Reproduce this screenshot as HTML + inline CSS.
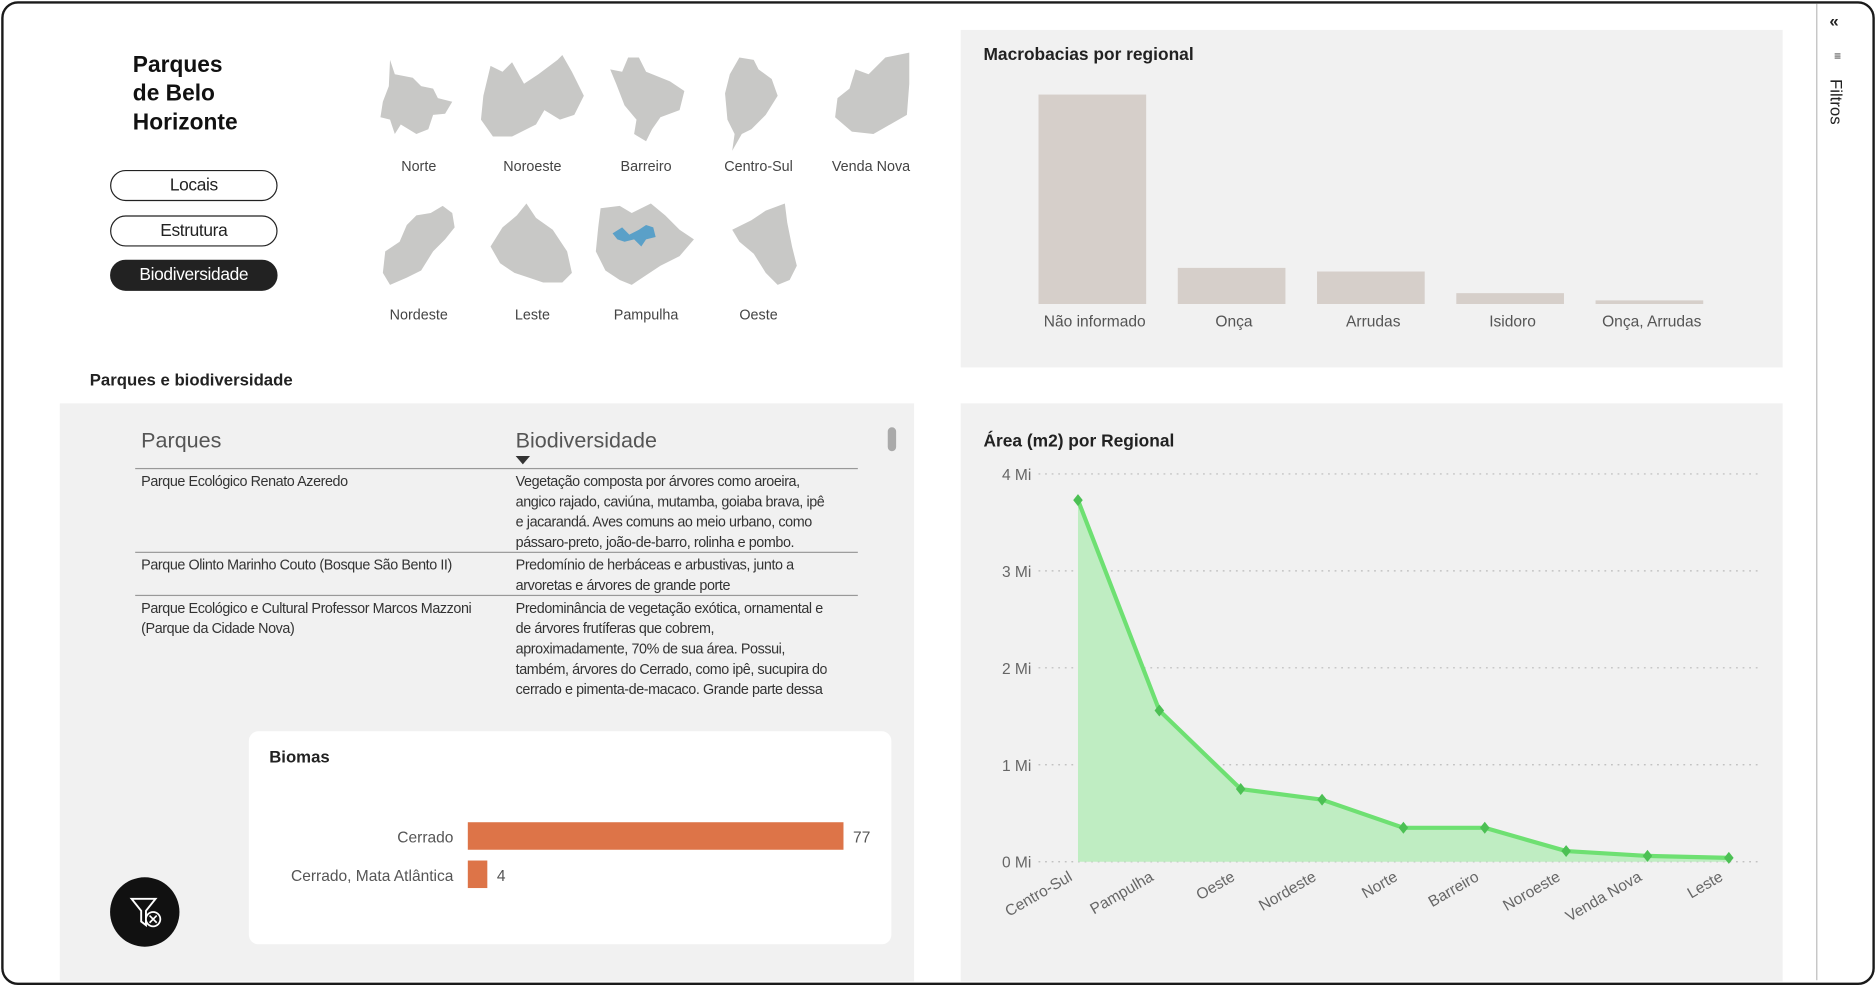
<!DOCTYPE html>
<html><head><meta charset="utf-8">
<style>
html,body{margin:0;padding:0;background:#fff;width:1876px;height:985px;overflow:hidden;font-family:"Liberation Sans",sans-serif;}
#wrap{position:absolute;left:0;top:0;width:1568px;height:823px;transform:scale(1.19643,1.19684);transform-origin:0 0;}
.abs{position:absolute;}
.panel{position:absolute;background:#f1f1f1;}
.btn{position:absolute;left:92px;width:138px;height:24px;border:1.3px solid #222;border-radius:13px;text-align:center;line-height:24px;font-size:14.5px;color:#222;letter-spacing:-0.3px;}
.mlabel{position:absolute;font-size:12px;color:#444;transform:translateX(-50%);white-space:nowrap;}
.tbl{font-size:12px;color:#333;letter-spacing:-0.35px;line-height:17px;}
</style></head><body>
<div id="wrap">
<div class="abs" style="left:1px;top:1px;width:1562px;height:818px;border:2px solid #1a1a1a;border-radius:14px;"></div>
<div class="abs" style="left:1518px;top:3px;width:1px;height:816px;background:#bbb;"></div>
<div class="abs" style="left:1529px;top:9px;font-size:14px;font-weight:bold;color:#222;">«</div>
<div class="abs" style="left:1533px;top:42px;font-size:10px;color:#333;">≡</div>
<div class="abs" style="left:1526px;top:88px;transform:rotate(90deg);transform-origin:left top;left:1543px;top:66px;font-size:14px;color:#222;">Filtros</div>

<div class="abs" style="left:111px;top:43px;font-size:19px;font-weight:bold;line-height:24px;color:#111;">Parques<br>de Belo<br>Horizonte</div>
<div class="btn" style="top:142px;">Locais</div>
<div class="btn" style="top:180px;">Estrutura</div>
<div class="btn" style="top:217px;background:#222;color:#fff;">Biodiversidade</div>

<svg class="abs" style="left:0;top:0" width="800" height="300">
 <g fill="#c8c8c6">
  <path d="M326,50 L330,62 L345,65 L352,72 L362,74 L366,82 L378,85 L372,95 L362,96 L358,108 L348,112 L335,104 L330,112 L326,100 L318,98 L320,85 L325,72 Z"/>
  <path d="M410,55 L420,60 L428,52 L438,70 L450,62 L466,50 L470,46 L478,60 L488,80 L480,96 L468,100 L455,92 L448,104 L428,114 L412,114 L402,100 L404,80 Z"/>
  <path d="M510,58 L520,60 L525,48 L534,48 L540,60 L560,68 L572,76 L568,92 L552,98 L545,108 L540,118 L530,112 L532,100 L522,88 L515,70 Z"/>
  <path d="M610,62 L618,48 L630,50 L634,58 L645,66 L650,80 L640,96 L628,108 L620,112 L612,126 L614,112 L608,100 L606,78 Z"/>
  <path d="M715,58 L726,62 L740,48 L760,44 L760,70 L758,96 L744,104 L730,112 L712,110 L698,98 L700,82 L710,74 Z"/>
  <path d="M340,188 L348,180 L360,178 L370,172 L378,178 L380,190 L372,200 L362,210 L352,226 L340,232 L326,238 L320,228 L322,210 L334,202 Z"/>
  <path d="M420,190 L432,180 L440,170 L448,182 L462,192 L474,210 L478,228 L470,236 L454,236 L442,232 L430,228 L418,220 L410,206 Z"/>
  <path d="M502,174 L518,172 L528,178 L544,170 L556,180 L568,192 L580,200 L568,214 L552,222 L540,230 L528,238 L518,234 L506,226 L498,210 L500,190 Z"/>
  <path d="M612,192 L628,184 L640,176 L656,170 L658,186 L662,206 L666,222 L660,234 L650,238 L640,228 L630,212 L618,202 Z"/>
 </g>
 <path d="M512,195 L520,190 L526,196 L534,192 L540,188 L546,190 L548,198 L540,200 L536,206 L530,200 L522,202 L516,200 Z" fill="#5aa0c8"/>
</svg>
<div class="mlabel" style="left:350px;top:132px;">Norte</div>
<div class="mlabel" style="left:445px;top:132px;">Noroeste</div>
<div class="mlabel" style="left:540px;top:132px;">Barreiro</div>
<div class="mlabel" style="left:634px;top:132px;">Centro-Sul</div>
<div class="mlabel" style="left:728px;top:132px;">Venda Nova</div>
<div class="mlabel" style="left:350px;top:256px;">Nordeste</div>
<div class="mlabel" style="left:445px;top:256px;">Leste</div>
<div class="mlabel" style="left:540px;top:256px;">Pampulha</div>
<div class="mlabel" style="left:634px;top:256px;">Oeste</div>

<!-- Macrobacias panel -->
<div class="panel" style="left:803px;top:25px;width:687px;height:282px;"></div>
<div class="abs" style="left:822px;top:38px;font-size:14.5px;font-weight:bold;color:#222;">Macrobacias por regional</div>
<svg class="abs" id="barsvg" style="left:803px;top:25px" width="687" height="282"></svg>

<!-- Table panel -->
<div class="abs" style="left:75px;top:309px;font-size:14px;font-weight:bold;color:#222;">Parques e biodiversidade</div>
<div class="panel" style="left:50px;top:337px;width:714px;height:483px;"></div>
<div class="abs" style="left:118px;top:358px;font-size:18px;color:#555;">Parques</div>
<div class="abs" style="left:431px;top:358px;font-size:18px;color:#555;">Biodiversidade</div>
<div class="abs" style="left:431px;top:381px;width:0;height:0;border-left:6px solid transparent;border-right:6px solid transparent;border-top:7px solid #333;"></div>
<div class="abs" style="left:113px;top:391px;width:604px;height:1px;background:#999;"></div>
<div class="abs tbl" style="left:118px;top:394px;">Parque Ecológico Renato Azeredo</div>
<div class="abs tbl" style="left:431px;top:394px;">Vegetação composta por árvores como aroeira,<br>angico rajado, caviúna, mutamba, goiaba brava, ipê<br>e jacarandá. Aves comuns ao meio urbano, como<br>pássaro-preto, joão-de-barro, rolinha e pombo.</div>
<div class="abs" style="left:113px;top:461px;width:604px;height:1px;background:#999;"></div>
<div class="abs tbl" style="left:118px;top:464px;">Parque Olinto Marinho Couto (Bosque São Bento II)</div>
<div class="abs tbl" style="left:431px;top:464px;">Predomínio de herbáceas e arbustivas, junto a<br>arvoretas e árvores de grande porte</div>
<div class="abs" style="left:113px;top:497px;width:604px;height:1px;background:#999;"></div>
<div class="abs tbl" style="left:118px;top:500px;">Parque Ecológico e Cultural Professor Marcos Mazzoni<br>(Parque da Cidade Nova)</div>
<div class="abs tbl" style="left:431px;top:500px;height:85px;overflow:hidden;">Predominância de vegetação exótica, ornamental e<br>de árvores frutíferas que cobrem,<br>aproximadamente, 70% de sua área. Possui,<br>também, árvores do Cerrado, como ipê, sucupira do<br>cerrado e pimenta-de-macaco. Grande parte dessa</div>
<div class="abs" style="left:742px;top:357px;width:7px;height:20px;border-radius:4px;background:#aaa;"></div>

<!-- Biomas card -->
<div class="abs" style="left:208px;top:611px;width:537px;height:178px;background:#fff;border-radius:8px;"></div>
<div class="abs" style="left:225px;top:624px;font-size:14px;font-weight:bold;color:#222;">Biomas</div>
<svg class="abs" id="biosvg" style="left:208px;top:611px" width="537" height="178"></svg>

<div class="abs" style="left:92px;top:733px;width:58px;height:58px;border-radius:50%;background:#111;">
 <svg width="58" height="58"><path d="M18,18 L38,18 L30,28 L30,40 L26,37 L26,28 Z" fill="none" stroke="#fff" stroke-width="1.6"/><circle cx="36" cy="35" r="6" fill="#111" stroke="#fff" stroke-width="1.5"/><path d="M33,32 L39,38 M39,32 L33,38" stroke="#fff" stroke-width="1.4"/></svg>
</div>

<!-- Area chart -->
<div class="panel" style="left:803px;top:337px;width:687px;height:483px;"></div>
<div class="abs" style="left:822px;top:361px;font-size:14.5px;font-weight:bold;color:#222;">Área (m2) por Regional</div>
<svg class="abs" id="linesvg" style="left:0;top:0" width="1518" height="820"></svg>
</div>

<script>
const NS="http://www.w3.org/2000/svg";
function mk(parent,tag,attrs,text){const e=document.createElementNS(NS,tag);for(const k in attrs)e.setAttribute(k,attrs[k]);if(text!==undefined)e.textContent=text;parent.appendChild(e);return e;}

// Macrobacias
const macroCats=["Não informado","Onça","Arrudas","Isidoro","Onça, Arrudas"];
const macroVals=[58,10,9,3,1];
(function(){
 const svg=document.getElementById('barsvg');
 const base=229, x0=20, step=116.4, bw=90, maxV=58, hMax=175;
 const y=v=>base-v/maxV*hMax;
 macroCats.forEach((c,i)=>{
  const cx=x0+step*i+90;
  const r=mk(svg,'rect',{x:cx-bw/2,y:y(macroVals[i]),width:bw,height:base-y(macroVals[i]),fill:'#d6cfca'});
  
  
  const t=mk(svg,'text',{x:cx+2,y:base+19,'text-anchor':'middle','font-size':13,fill:'#555','font-family':'Liberation Sans'},c);
  
  
 });
})();

// Biomas
const biomaCats=["Cerrado","Cerrado, Mata Atlântica"];
const biomaVals=[77,4];
(function(){
 const svg=document.getElementById('biosvg');
 const x0=183, w=314, maxV=77;
 biomaCats.forEach((c,i)=>{
  const yy=76+i*32;
  const bw=biomaVals[i]/maxV*w;
  const r=mk(svg,'rect',{x:x0,y:yy,width:bw,height:23,fill:'#dd7448'});
  
  
  const l=mk(svg,'text',{x:x0-12,y:yy+17,'text-anchor':'end','font-size':13,fill:'#555','font-family':'Liberation Sans'},c);
  
  
  const v=mk(svg,'text',{x:x0+bw+8,y:yy+17,'font-size':13,fill:'#555','font-family':'Liberation Sans'},biomaVals[i]);
  
  
 });
})();

// Area line chart
const regCats=["Centro-Sul","Pampulha","Oeste","Nordeste","Norte","Barreiro","Noroeste","Venda Nova","Leste"];
const regVals=[3.73,1.56,0.75,0.64,0.35,0.35,0.11,0.06,0.04];
const yTicks=[0,1,2,3,4];
(function(){
 const svg=document.getElementById('linesvg');
 const yS=v=>720-v*81, xS=i=>901+i*68;
 yTicks.forEach(t=>{
  const g=mk(svg,'line',{x1:868,x2:1472,y1:yS(t),y2:yS(t),stroke:'#bbb','stroke-dasharray':'1.5 4','stroke-width':1});
  
  
  const tx=mk(svg,'text',{x:862,y:yS(t)+5,'text-anchor':'end','font-size':13,fill:'#666','font-family':'Liberation Sans'},t+' Mi');
  
  
 });
 let pts=regVals.map((v,i)=>xS(i)+','+yS(v)).join(' ');
 const area=mk(svg,'polygon',{points:xS(0)+','+yS(0)+' '+pts+' '+xS(regVals.length-1)+','+yS(0),fill:'#bfedc2'});
 
 
 const ln=mk(svg,'polyline',{points:pts,fill:'none',stroke:'#6ee072','stroke-width':3.5,'stroke-linejoin':'round'});
 
 
 regVals.forEach((v,i)=>{
  const x=xS(i),y=yS(v);
  const m=mk(svg,'polygon',{points:`${x},${y-5} ${x+4},${y} ${x},${y+5} ${x-4},${y}`,fill:'#4cc054'});
  
  
  const t=mk(svg,'text',{x:x-4,y:735,'text-anchor':'end','font-size':13,fill:'#666','font-family':'Liberation Sans',transform:`rotate(-30 ${x-4} 735)`},regCats[i]);
  
  
 });
})();
</script>
</body></html>
